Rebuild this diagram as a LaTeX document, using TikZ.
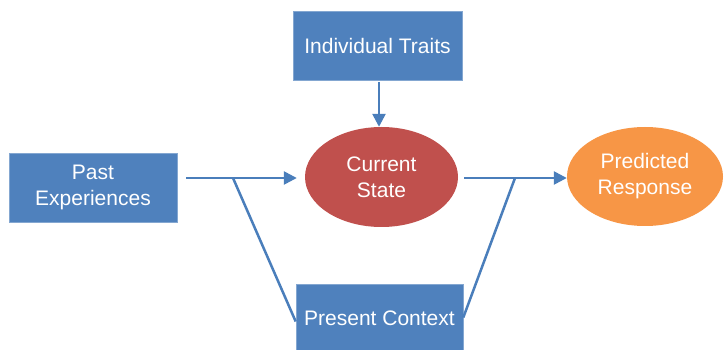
\documentclass[tikz,border=0pt]{standalone}
\usepackage{fontspec}
\setmainfont{Liberation Sans}
\usetikzlibrary{arrows.meta,shapes.geometric,calc}
\definecolor{boxblue}{HTML}{4F81BD}
\definecolor{linkblue}{HTML}{4A7EBB}
\definecolor{statered}{HTML}{C0504D}
\definecolor{resporange}{HTML}{F79646}
\tikzset{
  every node/.style={font=\fontsize{21}{26}\selectfont, text=white, align=center, inner sep=0pt},
  bluebox/.style={rectangle, fill=boxblue, draw=boxblue!70!white, line width=0.6pt},
  oval/.style={ellipse, draw=none},
  link/.style={draw=linkblue, line width=2.5pt},
  arrowlink/.style={link, -{Triangle[length=13pt,width=13pt]}},
}
\begin{document}
\begin{tikzpicture}[x=1pt,y=-1pt]
\useasboundingbox (0,0) rectangle (724,350);
\clip (0,0) rectangle (724,350);
\node[bluebox, minimum width=169pt, minimum height=69pt] (IT) at (377.5,45.5) {Individual Traits};
\node[bluebox, minimum width=168pt, minimum height=69pt] (PE) at (93,187.5) {Past\\Experiences};
\node[bluebox, minimum width=167pt, minimum height=69pt] (PC) at (379.5,318.5) {Present Context};
\node[oval, fill=statered, minimum width=153pt, minimum height=100pt] (CS) at (381.5,177) {Current\\State};
\node[oval, fill=resporange, minimum width=156pt, minimum height=99pt] (PR) at (645,176.5) {Predicted\\Response};
\coordinate (j1) at (233,178);
\coordinate (j2) at (515,178);
\draw[arrowlink, shorten <=2pt] (IT.south -| 379,0) -- (CS.north -| 379,0);
\draw[arrowlink, shorten <=9pt, shorten >=8pt] (PE.east |- j1) -- (CS.west |- j1);
\draw[link] (j1) -- ($(PC.west)+(0,3)$);
\draw[arrowlink, shorten <=6pt] (CS.east |- j2) -- (PR.west |- j2);
\draw[link] (j2) -- ($(PC.east)+(0,-1)$);
\end{tikzpicture}
\end{document}
